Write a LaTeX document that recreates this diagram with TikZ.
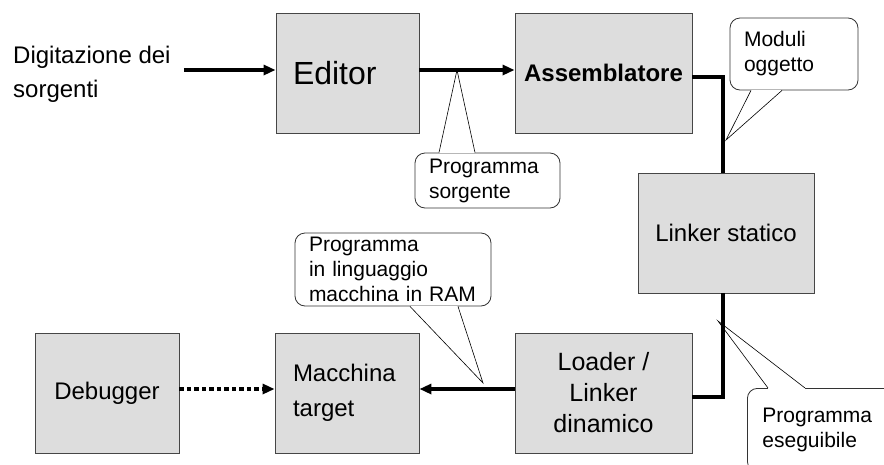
\documentclass[tikz,border=0pt]{standalone}
\usepackage{fontspec}
\setmainfont{Liberation Sans}
\usetikzlibrary{arrows.meta}
\definecolor{box gray}{RGB}{221,221,221}
\definecolor{edge gray}{RGB}{70,70,70}

% pointer of a callout: base points #1, #3 on the border, tip #2
\newcommand{\notepointer}[3]{%
	\fill[white] (#1) -- (#2) -- (#3) -- cycle;
	\draw[white, line width=1.6pt] (#1) -- (#3);
	\draw[pointer] (#1) -- (#2) -- (#3);}

\begin{document}
\begin{tikzpicture}[x=1pt, y=-1pt,
		block/.style={draw=edge gray, line width=0.9pt, fill=box gray, minimum height=120pt,
			inner sep=0pt, align=center, font=\fontsize{24}{35}\selectfont},
		note/.style={draw=black!80, line width=0.8pt, fill=white, rounded corners=10pt,
			inner sep=0pt, inner xsep=14pt, align=left, font=\fontsize{21}{25}\selectfont},
		pointer/.style={draw=black, line width=0.6pt},
		link/.style={line width=3.5pt},
		flow/.style={link, -{Triangle[length=12pt,width=10pt]}}]
		\useasboundingbox (0,0) rectangle (884,464);
		\clip (0,0) rectangle (884,464);
		% blocks
		\node[anchor=west, inner sep=0pt, align=left, font=\fontsize{24}{34}\selectfont]
			(digit) at (13,74) {Digitazione dei\\sorgenti};
		\node[block, minimum width=143pt, text width=109pt, inner xsep=17pt, align=left,
			font=\fontsize{32}{38}\selectfont] (editor) at (347.5,73) {Editor};
		\node[block, minimum width=177pt, font=\bfseries\fontsize{24}{30}\selectfont]
			(asm) at (603.5,73) {Assemblatore};
		\node[block, minimum width=176pt] (linker) at (726,233) {Linker statico};
		\node[block, minimum width=177pt, font=\fontsize{25}{31}\selectfont]
			(loader) at (603.5,393) {Loader /\\Linker\\dinamico};
		\node[block, minimum width=144pt, text width=108pt, inner xsep=18pt, align=left]
			(target) at (347,393) {Macchina\\target};
		\node[block, minimum width=144pt] (debug) at (107,393) {Debugger};
		% callouts
		\node[note, minimum width=145pt, minimum height=55pt, text width=117pt]
			(notesrc) at (487.5,180.5) {Programma\\sorgente};
		\node[note, minimum width=128pt, minimum height=72pt, text width=100pt]
			(noteobj) at (794,54) {Moduli\\oggetto};
		\node[note, minimum width=196pt, minimum height=73pt, text width=168pt]
			(noteram) at (393,269.5) {Programma\\in linguaggio\\macchina in RAM};
		\node[note, anchor=north west, minimum width=150pt, minimum height=83pt,
			text width=120pt, inner xsep=15pt] (noteexe) at (747,388) {Programma\\eseguibile};
		\coordinate (srctip) at (457,70);
		\coordinate (objtip) at (726,140);
		\coordinate (ramtip) at (483,383);
		\coordinate (exetip) at (718,321);
		\notepointer{[xshift=-48.5pt]notesrc.north}{srctip}{[xshift=-12.5pt]notesrc.north}
		\notepointer{[xshift=-43pt]noteobj.south}{objtip}{[xshift=-12pt]noteobj.south}
		\notepointer{[xshift=17pt]noteram.south}{ramtip}{[xshift=65pt]noteram.south}
		\notepointer{[xshift=21pt]noteexe.north west}{exetip}{[xshift=58pt]noteexe.north west}
		% connectors
		\draw[flow] ([xshift=13pt,yshift=4pt]digit.east) -- ([yshift=3pt]editor.west);
		\draw[flow] ([yshift=3pt]editor.east) -- ([yshift=3pt]asm.west);
		\draw[link] ([yshift=-4pt]asm.east) -| ([xshift=-3pt]linker.north);
		\draw[link] ([xshift=-3pt]linker.south) |- ([yshift=-4pt]loader.east);
		\draw[flow] ([yshift=4pt]loader.west) -- ([yshift=4pt]target.east);
		\draw[flow, dash pattern=on 4.5pt off 3pt] ([yshift=4pt]debug.east) -- ([yshift=4pt]target.west);
	\end{tikzpicture}
\end{document}
